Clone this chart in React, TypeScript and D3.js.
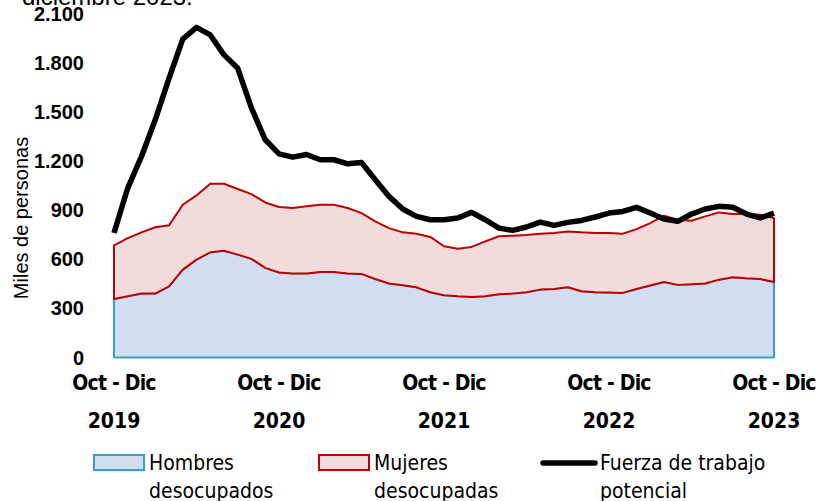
import React from "react"
import * as d3 from "d3"

const width = 830
const height = 501

const margin = { top: 14, right: 56, bottom: 143.5, left: 114 }

// trimestres móviles, oct-dic 2019 a oct-dic 2023
const periods = d3.range(49)
const tickIdx = [0, 12, 24, 36, 48]
const tickYears = ["2019", "2020", "2021", "2022", "2023"]
const yTicks = [0, 300, 600, 900, 1200, 1500, 1800, 2100]

const hombres = [358, 374, 391, 391, 435, 537, 598, 643, 653, 629, 603, 548, 520, 513, 513, 523, 523, 513, 511, 480, 452, 442, 429, 399, 380, 374, 370, 374, 387, 391, 399, 415, 419, 429, 405, 399, 398, 395, 419, 440, 462, 444, 448, 452, 476, 490, 484, 480, 462]
const mujeres = [328, 356, 374, 405, 373, 397, 393, 419, 409, 401, 396, 400, 400, 401, 411, 411, 411, 401, 372, 352, 339, 323, 328, 338, 300, 291, 306, 336, 354, 354, 350, 342, 342, 342, 360, 362, 363, 362, 366, 382, 405, 398, 388, 411, 411, 387, 393, 393, 391]
const fuerza = [761, 1036, 1229, 1453, 1707, 1946, 2018, 1972, 1850, 1768, 1524, 1331, 1245, 1225, 1241, 1209, 1209, 1184, 1192, 1087, 985, 908, 863, 842, 842, 853, 887, 842, 791, 777, 798, 828, 808, 826, 838, 859, 883, 893, 918, 883, 847, 832, 877, 908, 924, 918, 877, 853, 883]

const narrow = "'DejaVu Sans Condensed', 'Liberation Sans Narrow', sans-serif"

const fmt = d3.formatLocale({ thousands: ".", decimal: ",", grouping: [3], currency: ["$", ""] }).format(",d")

function App() {
  const innerWidth = width - margin.left - margin.right
  const innerHeight = height - margin.top - margin.bottom

  const xScale = d3.scaleLinear().domain([0, 48]).range([0, innerWidth])
  const yScale = d3.scaleLinear().domain([0, 2100]).range([innerHeight, 0])

  const rows = periods.map(i => ({ i, hombres: hombres[i], mujeres: mujeres[i] }))
  const series = d3.stack().keys(["hombres", "mujeres"])(rows as any)

  const area = d3.area<any>()
    .x(d => xScale(d.data.i))
    .y0(d => yScale(d[0]))
    .y1(d => yScale(d[1]))

  const line = d3.line<number>()
    .x((d, i) => xScale(i))
    .y(d => yScale(d))

  const fills = ["#D3DDF1", "#F2DCDB"]
  const strokes = ["#3B9FC0", "#C00000"]

  return (
    <svg width={width} height={height} style={{ position: "absolute", left: 0, top: 0 }}>
      <text x={22} y={5} fontFamily="'Liberation Sans', Arial, sans-serif" fontSize={24} fill="#000">diciembre 2023.</text>
      <g transform={`translate(${margin.left}, ${margin.top})`}>
        {series.map((s, k) => (
          <path key={k} d={area(s as any) || ""} fill={fills[k]} stroke={strokes[k]} strokeWidth={2} strokeLinejoin="round" />
        ))}
        <path d={line(fuerza) || ""} fill="none" stroke="#000" strokeWidth={5.5} strokeLinejoin="round" />

        {yTicks.map(t => (
          <text key={t} x={-30} y={yScale(t)} dy="0.35em" textAnchor="end"
            fontFamily="'Liberation Sans', Arial, sans-serif" fontWeight="bold" fontSize={20}>{fmt(t)}</text>
        ))}

        {tickIdx.map((t, k) => (
          <g key={t} transform={`translate(${xScale(t)}, 0)`}>
            <text y={innerHeight + 32} textAnchor="middle" fontFamily={narrow} fontWeight="bold" fontSize={21} letterSpacing={-0.8}>Oct - Dic</text>
            <text y={innerHeight + 70} textAnchor="middle" fontFamily={narrow} fontWeight="bold" fontSize={21}>{tickYears[k]}</text>
          </g>
        ))}
      </g>

      <text transform="translate(28, 218) rotate(-90)" textAnchor="middle"
        fontFamily="'Liberation Sans', Arial, sans-serif" fontSize={20}>Miles de personas</text>

      <g fontFamily={narrow} fontSize={21}>
        <rect x={94} y={455} width={50} height={15} fill={fills[0]} stroke={strokes[0]} strokeWidth={2} />
        <text x={149} y={470}>Hombres</text>
        <text x={149} y={498}>desocupados</text>

        <rect x={319} y={455} width={50} height={15} fill={fills[1]} stroke={strokes[1]} strokeWidth={2} />
        <text x={374} y={470}>Mujeres</text>
        <text x={374} y={498}>desocupadas</text>

        <line x1={543} x2={595} y1={463} y2={463} stroke="#000" strokeWidth={5.5} strokeLinecap="round" />
        <text x={600} y={470}>Fuerza de trabajo</text>
        <text x={600} y={498}>potencial</text>
      </g>
    </svg>
  )
}

export default App
